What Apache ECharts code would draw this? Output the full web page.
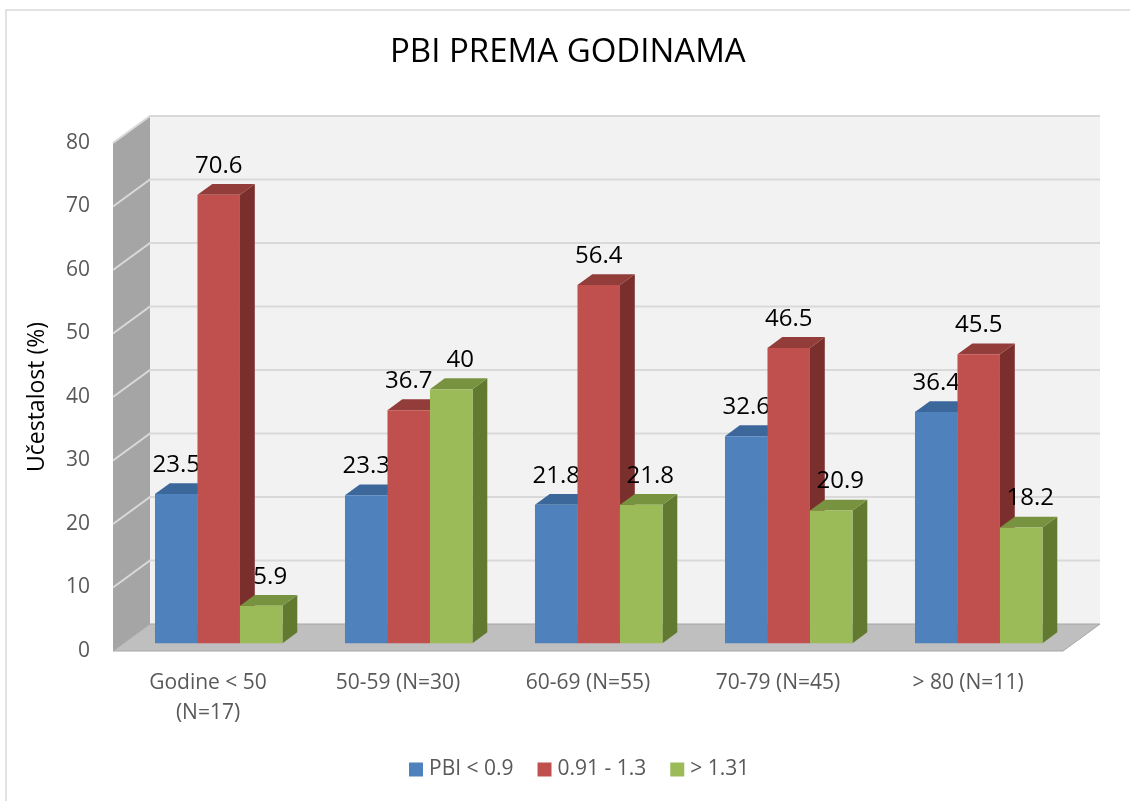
<!DOCTYPE html>
<html>
<head>
<meta charset="utf-8">
<title>PBI prema godinama</title>
<script src="https://cdn.jsdelivr.net/npm/echarts@6/dist/echarts.min.js"></script>
<style>
  html, body { margin: 0; padding: 0; background: #ffffff; }
  #chart { width: 1130px; height: 801px; }
</style>
</head>
<body>
<div id="chart"></div>
<script>
// Age groups (x axis)
const categories = ['Godine < 50\n(N=17)', '50-59 (N=30)', '60-69 (N=55)', '70-79 (N=45)', '> 80 (N=11)'];

// Legend names of the three PBI ranges
const seriesNames = ['PBI < 0.9', '0.91 - 1.3', '> 1.31'];

// Frequency (%) per age group
const pbiLow = [23.5, 23.3, 21.8, 32.6, 36.4];
const pbiMid = [70.6, 36.7, 56.4, 46.5, 45.5];
const pbiHigh = [5.9, 40, 21.8, 20.9, 18.2];

// Value axis range
const yMin = 0;
const yMax = 80;
const yStep = 10;

// Oblique projection: full depth of the box (pixels toward the back wall)
const DEPTH = { x: 37, y: -27 };
// Bars occupy this slice of the depth
const BAR_NEAR = 0.29;
const BAR_FAR = 0.69;
// Width of one bar as share of a category band
const BAR_FRAC = 0.2237;
// Horizontal nudge of value labels per series
const LABEL_SHIFT = [0, 0, 9];

const palettes = [
  { front: '#4f81bd', top: '#3c679b', side: '#2f5584' },
  { front: '#c0504d', top: '#933d3b', side: '#7a2f2d' },
  { front: '#9bbb59', top: '#78933f', side: '#627a30' }
];

// Back wall, side wall, floor and gridlines
function renderWalls(params, api) {
  const band = api.size([1, 0])[0];
  const left = api.coord([0, yMin])[0] - band / 2;
  const right = api.coord([categories.length - 1, yMin])[0] + band / 2;
  const yBase = api.coord([0, yMin])[1];
  const yTop = api.coord([0, yMax])[1];
  const children = [];

  // back wall
  children.push({
    type: 'polygon',
    shape: { points: [
      [left + DEPTH.x, yTop + DEPTH.y], [right + DEPTH.x, yTop + DEPTH.y],
      [right + DEPTH.x, yBase + DEPTH.y], [left + DEPTH.x, yBase + DEPTH.y]
    ] },
    style: { fill: '#f2f2f2' }
  });
  // side wall
  children.push({
    type: 'polygon',
    shape: { points: [
      [left, yTop], [left + DEPTH.x, yTop + DEPTH.y],
      [left + DEPTH.x, yBase + DEPTH.y], [left, yBase]
    ] },
    style: { fill: '#a5a5a5' }
  });
  // gridlines on both walls
  for (let v = yMin + yStep; v <= yMax; v += yStep) {
    const y = api.coord([0, v])[1];
    children.push({
      type: 'polyline',
      shape: { points: [[left, y], [left + DEPTH.x, y + DEPTH.y], [right + DEPTH.x, y + DEPTH.y]] },
      style: { stroke: '#d9d9d9', lineWidth: 2, fill: null }
    });
  }
  // floor
  children.push({
    type: 'polygon',
    shape: { points: [
      [left, yBase], [right, yBase],
      [right + DEPTH.x, yBase + DEPTH.y], [left + DEPTH.x, yBase + DEPTH.y]
    ] },
    style: { fill: '#bfbfbf', stroke: '#a6a6a6', lineWidth: 1 }
  });
  return { type: 'group', children: children };
}

// One 3D box per value: front face, top face, right side and value label
function makeBarRenderer(slot) {
  const pal = palettes[slot];
  return function (params, api) {
    const cat = api.value(0);
    const val = api.value(1);
    const base = api.coord([cat, yMin]);
    const top = api.coord([cat, val]);
    const band = api.size([1, 0])[0];
    const w = band * BAR_FRAC;
    const x0 = base[0] + (slot - 1.5) * w + DEPTH.x * BAR_NEAR;
    const y0 = base[1] + DEPTH.y * BAR_NEAR;
    const y1 = top[1] + DEPTH.y * BAR_NEAR;
    const dx = DEPTH.x * (BAR_FAR - BAR_NEAR);
    const dy = DEPTH.y * (BAR_FAR - BAR_NEAR);
    return {
      type: 'group',
      children: [
        {
          type: 'polygon',
          shape: { points: [[x0 + w, y1], [x0 + w, y0], [x0 + w + dx, y0 + dy], [x0 + w + dx, y1 + dy]] },
          style: { fill: pal.side }
        },
        {
          type: 'polygon',
          shape: { points: [[x0, y1], [x0 + w, y1], [x0 + w + dx, y1 + dy], [x0 + dx, y1 + dy]] },
          style: { fill: pal.top }
        },
        {
          type: 'rect',
          shape: { x: x0, y: y1, width: w, height: y0 - y1 },
          style: { fill: pal.front }
        },
        {
          type: 'text',
          x: x0 + w / 2 + LABEL_SHIFT[slot],
          y: y1 - 29,
          style: {
            text: String(val),
            fill: '#000000',
            font: '24px "Open Sans"',
            align: 'center',
            verticalAlign: 'middle'
          }
        }
      ]
    };
  };
}

const seriesValues = [pbiLow, pbiMid, pbiHigh];

const chart = echarts.init(document.getElementById('chart'), null, { renderer: 'canvas' });

chart.setOption({
  animation: false,
  backgroundColor: '#ffffff',
  textStyle: { fontFamily: 'Open Sans' },
  graphic: [{
    type: 'rect',
    shape: { x: 6, y: 10, width: 1140, height: 800 },
    style: { fill: null, stroke: '#d9d9d9', lineWidth: 1.5 },
    silent: true,
    z: -10
  }],
  title: {
    text: 'PBI PREMA GODINAMA',
    left: 390,
    top: 36,
    padding: 0,
    textStyle: { fontFamily: 'Open Sans', fontSize: 33, fontWeight: 'normal', color: '#000000' }
  },
  legend: {
    data: seriesNames,
    bottom: 16,
    left: 404,
    icon: 'rect',
    itemWidth: 14,
    itemHeight: 14,
    itemGap: 24,
    textStyle: { fontFamily: 'Open Sans', fontSize: 21, color: '#595959', padding: [0, 0, 0, 1] }
  },
  grid: { left: 113, right: 67, top: 143, bottom: 150 },
  xAxis: {
    type: 'category',
    data: categories,
    axisLine: { show: false },
    axisTick: { show: false },
    axisLabel: {
      fontFamily: 'Open Sans',
      fontSize: 21,
      color: '#595959',
      margin: 17,
      lineHeight: 30,
      interval: 0
    }
  },
  yAxis: {
    type: 'value',
    min: yMin,
    max: yMax,
    interval: yStep,
    name: 'Učestalost (%)',
    nameLocation: 'middle',
    nameGap: 64,
    nameTextStyle: { fontFamily: 'Open Sans', fontSize: 23, color: '#000000' },
    axisLine: { show: false },
    axisTick: { show: false },
    splitLine: { show: false },
    axisLabel: { fontFamily: 'Open Sans', fontSize: 21, color: '#595959', margin: 23 }
  },
  series: [
    {
      type: 'custom',
      z: 1,
      silent: true,
      renderItem: renderWalls,
      data: [[0, yMin]],
      encode: { x: 0, y: 1 }
    }
  ].concat(seriesValues.map(function (values, slot) {
    return {
      type: 'custom',
      name: seriesNames[slot],
      z: 2,
      itemStyle: { color: palettes[slot].front },
      renderItem: makeBarRenderer(slot),
      data: values.map(function (v, i) { return [i, v]; }),
      encode: { x: 0, y: 1 }
    };
  }))
});
</script>
</body>
</html>
